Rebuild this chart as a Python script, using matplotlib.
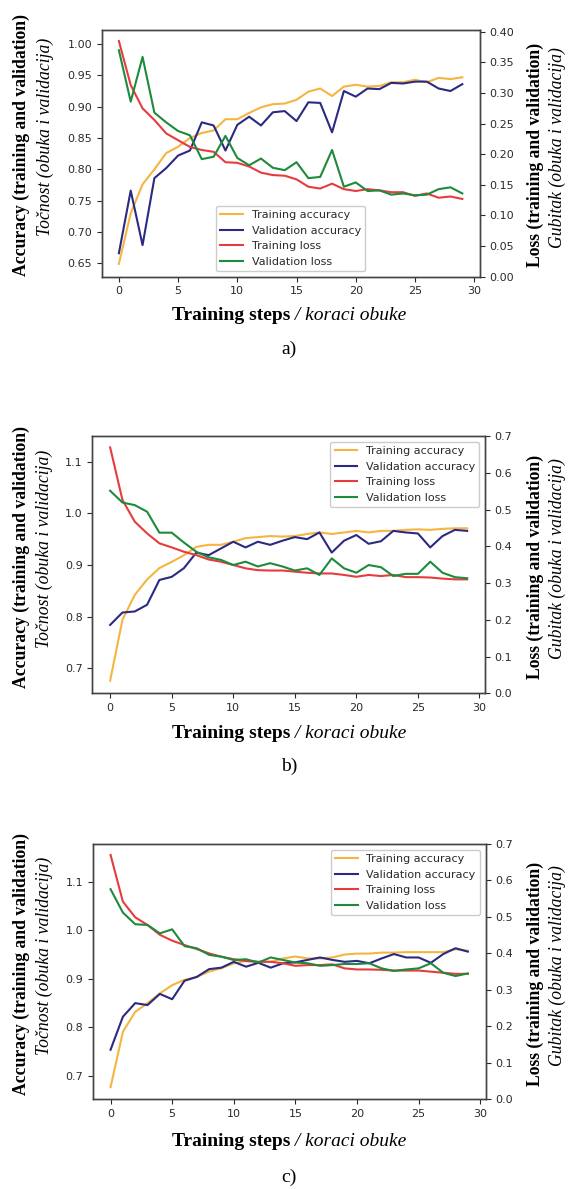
import matplotlib
matplotlib.use("Agg")
import matplotlib.pyplot as plt
import numpy as np

steps = list(range(30))

a_train_acc = [0.649, 0.730, 0.776, 0.800, 0.826, 0.836, 0.850, 0.858, 0.862, 0.880, 0.880, 0.890, 0.899, 0.904, 0.905,
               0.911, 0.924, 0.929, 0.917, 0.932, 0.935, 0.932, 0.933, 0.939, 0.939, 0.943, 0.939, 0.946, 0.944, 0.947]
a_val_acc = [0.666, 0.766, 0.679, 0.786, 0.802, 0.822, 0.830, 0.875, 0.870, 0.830, 0.871, 0.884, 0.870, 0.891, 0.893,
             0.877, 0.907, 0.906, 0.859, 0.925, 0.916, 0.929, 0.928, 0.938, 0.937, 0.940, 0.940, 0.929, 0.925, 0.936]
a_train_loss = [0.385, 0.313, 0.275, 0.256, 0.234, 0.223, 0.212, 0.207, 0.204, 0.187, 0.186, 0.180, 0.170, 0.166, 0.165,
                0.159, 0.147, 0.144, 0.152, 0.143, 0.140, 0.143, 0.141, 0.138, 0.138, 0.132, 0.136, 0.129, 0.131, 0.127]
a_val_loss = [0.370, 0.286, 0.359, 0.268, 0.252, 0.238, 0.231, 0.192, 0.196, 0.230, 0.194, 0.182, 0.193, 0.178, 0.174,
              0.187, 0.161, 0.163, 0.207, 0.147, 0.154, 0.140, 0.141, 0.134, 0.136, 0.133, 0.134, 0.143, 0.146, 0.136]

b_train_acc = [0.676, 0.794, 0.842, 0.872, 0.894, 0.906, 0.919, 0.935, 0.939, 0.939, 0.945, 0.952, 0.954, 0.956, 0.955,
               0.956, 0.960, 0.963, 0.960, 0.963, 0.966, 0.963, 0.966, 0.966, 0.968, 0.969, 0.968, 0.970, 0.971, 0.971]
b_val_acc = [0.784, 0.808, 0.810, 0.823, 0.871, 0.877, 0.894, 0.924, 0.919, 0.932, 0.945, 0.934, 0.945, 0.939, 0.947,
             0.954, 0.950, 0.963, 0.924, 0.947, 0.958, 0.941, 0.946, 0.966, 0.963, 0.961, 0.934, 0.956, 0.968, 0.966]
b_train_loss = [0.669, 0.526, 0.467, 0.435, 0.408, 0.397, 0.385, 0.376, 0.364, 0.358, 0.349, 0.340, 0.335, 0.334, 0.334,
                0.331, 0.328, 0.326, 0.326, 0.322, 0.317, 0.322, 0.319, 0.322, 0.316, 0.316, 0.315, 0.312, 0.310, 0.310]
b_val_loss = [0.551, 0.519, 0.512, 0.494, 0.437, 0.437, 0.410, 0.385, 0.370, 0.363, 0.349, 0.358, 0.345, 0.354, 0.345,
              0.334, 0.340, 0.322, 0.367, 0.340, 0.328, 0.349, 0.343, 0.319, 0.325, 0.325, 0.358, 0.328, 0.316, 0.313]

c_train_acc = [0.677, 0.791, 0.832, 0.850, 0.870, 0.887, 0.898, 0.904, 0.915, 0.922, 0.932, 0.937, 0.935, 0.935, 0.942,
               0.946, 0.942, 0.942, 0.944, 0.950, 0.952, 0.952, 0.954, 0.954, 0.955, 0.955, 0.955, 0.955, 0.961, 0.958]
c_val_acc = [0.754, 0.822, 0.850, 0.846, 0.869, 0.858, 0.896, 0.904, 0.920, 0.923, 0.935, 0.925, 0.933, 0.923, 0.932,
             0.934, 0.939, 0.944, 0.939, 0.935, 0.937, 0.932, 0.942, 0.951, 0.944, 0.944, 0.933, 0.951, 0.963, 0.956]
c_train_loss = [0.670, 0.542, 0.499, 0.478, 0.451, 0.435, 0.423, 0.412, 0.400, 0.391, 0.384, 0.379, 0.377, 0.377, 0.373,
                0.366, 0.368, 0.368, 0.370, 0.359, 0.356, 0.356, 0.355, 0.353, 0.353, 0.353, 0.350, 0.347, 0.344, 0.344]
c_val_loss = [0.576, 0.512, 0.480, 0.478, 0.455, 0.466, 0.420, 0.414, 0.396, 0.391, 0.382, 0.384, 0.375, 0.389, 0.382,
              0.375, 0.373, 0.366, 0.368, 0.371, 0.371, 0.373, 0.359, 0.352, 0.356, 0.359, 0.373, 0.347, 0.338, 0.345]

series_labels = ["Training accuracy", "Validation accuracy", "Training loss", "Validation loss"]
left_label = ["Accuracy (training and validation)", "Točnost (obuka i validacija)"]
right_label = ["Loss (training and validation)", "Gubitak (obuka i validacija)"]
xlabel_bold = "Training steps"
xlabel_ital = " / koraci obuke"
captions = ["a)", "b)", "c)"]

C_TA = "#F5B540"
C_VA = "#2B2A82"
C_TL = "#E63C3E"
C_VL = "#1E8A3C"

W, H = 574, 1189
fig = plt.figure(figsize=(W / 100, H / 100), dpi=100)
SERIF = "Liberation Serif"
TICK_FS = 8
TXT = "#2a2a2a"


def rect(l, r, t, b):
    return [l / W, 1 - b / H, (r - l) / W, (b - t) / H]


panels = [
    dict(box=(101.7, 479.5, 30, 276.7), data=(a_train_acc, a_val_acc, a_train_loss, a_val_loss),
         ylim1=(0.6286, 1.0224), yt1=np.arange(0.65, 1.001, 0.05), fmt1="{:.2f}",
         ylim2=(0, 0.403), yt2=np.arange(0, 0.401, 0.05), fmt2="{:.2f}",
         legloc="lower center", lx=(21.5, 45.5), rx=(535, 557), xl_y=315, cap_y=349),
    dict(box=(92.3, 485, 436, 693.3), data=(b_train_acc, b_val_acc, b_train_loss, b_val_loss),
         ylim1=(0.6516, 1.1497), yt1=np.arange(0.7, 1.101, 0.1), fmt1="{:.1f}",
         ylim2=(0, 0.7), yt2=np.arange(0, 0.701, 0.1), fmt2="{:.1f}",
         legloc="upper right", lx=(21.5, 44.5), rx=(535, 557), xl_y=733, cap_y=766),
    dict(box=(92.7, 485.7, 844, 1099.3), data=(c_train_acc, c_val_acc, c_train_loss, c_val_loss),
         ylim1=(0.652, 1.1776), yt1=np.arange(0.7, 1.101, 0.1), fmt1="{:.1f}",
         ylim2=(0, 0.7), yt2=np.arange(0, 0.701, 0.1), fmt2="{:.1f}",
         legloc="upper right", lx=(21.5, 44.5), rx=(535, 557), xl_y=1142, cap_y=1177),
]

# vertical offsets (px) of the rotated labels relative to the axes centre
LB_OFF, LI_OFF, RB_OFF, RI_OFF = -8, -16, 2, -6

xl_pairs = []
for k, p in enumerate(panels):
    l, r, t, b = p["box"]
    ax = fig.add_axes(rect(l, r, t, b))
    ax2 = ax.twinx()
    ta, va, tl, vl = p["data"]
    h1, = ax.plot(steps, ta, color=C_TA, lw=1.5, label=series_labels[0])
    h2, = ax.plot(steps, va, color=C_VA, lw=1.5, label=series_labels[1])
    h3, = ax2.plot(steps, tl, color=C_TL, lw=1.5, label=series_labels[2])
    h4, = ax2.plot(steps, vl, color=C_VL, lw=1.5, label=series_labels[3])
    ax.set_xlim(-1.45, 30.45)
    ax.set_ylim(*p["ylim1"])
    ax2.set_ylim(*p["ylim2"])
    ax.set_xticks([0, 5, 10, 15, 20, 25, 30])
    ax.set_yticks(p["yt1"])
    ax.set_yticklabels([p["fmt1"].format(v) for v in p["yt1"]])
    ax2.set_yticks(p["yt2"])
    ax2.set_yticklabels([p["fmt2"].format(v) for v in p["yt2"]])
    for a in (ax, ax2):
        a.tick_params(labelsize=TICK_FS, colors=TXT, length=3.5, width=0.8)
        for s in a.spines.values():
            s.set_color("#444444")
            s.set_linewidth(1.0)
    leg = ax2.legend([h1, h2, h3, h4], series_labels, loc=p["legloc"], fontsize=8, framealpha=1.0)
    for tx in leg.get_texts():
        tx.set_color(TXT)
    yc = (t + b) / 2
    fig.text(p["lx"][0] / W, 1 - (yc + LB_OFF) / H, left_label[0], rotation=90, ha="center", va="center",
             family=SERIF, weight="bold", fontsize=12.7, color="black")
    fig.text(p["lx"][1] / W, 1 - (yc + LI_OFF) / H, left_label[1], rotation=90, ha="center", va="center",
             family=SERIF, style="italic", fontsize=12.7, color="black")
    fig.text(p["rx"][0] / W, 1 - (yc + RB_OFF) / H, right_label[0], rotation=90, ha="center", va="center",
             family=SERIF, weight="bold", fontsize=12.7, color="black")
    fig.text(p["rx"][1] / W, 1 - (yc + RI_OFF) / H, right_label[1], rotation=90, ha="center", va="center",
             family=SERIF, style="italic", fontsize=12.7, color="black")
    xc = 289
    t1 = fig.text(xc / W, 1 - p["xl_y"] / H, xlabel_bold, ha="left", va="center",
                  family=SERIF, weight="bold", fontsize=14, color="black")
    t2 = fig.text(0, 0, xlabel_ital, ha="left", va="center",
                  family=SERIF, style="italic", fontsize=14, color="black")
    xl_pairs.append((t1, t2, xc, p["xl_y"]))
    fig.text(xc / W, 1 - p["cap_y"] / H, captions[k], ha="center", va="center",
             family=SERIF, fontsize=14, color="black")

fig.canvas.draw()
rend = fig.canvas.get_renderer()
for t1, t2, xc, y in xl_pairs:
    w1 = t1.get_window_extent(rend).width
    w2 = t2.get_window_extent(rend).width
    x0 = xc - (w1 + w2) / 2
    t1.set_position((x0 / W, 1 - y / H))
    t2.set_position(((x0 + w1) / W, 1 - y / H))

fig.savefig("out.png", dpi=100)
